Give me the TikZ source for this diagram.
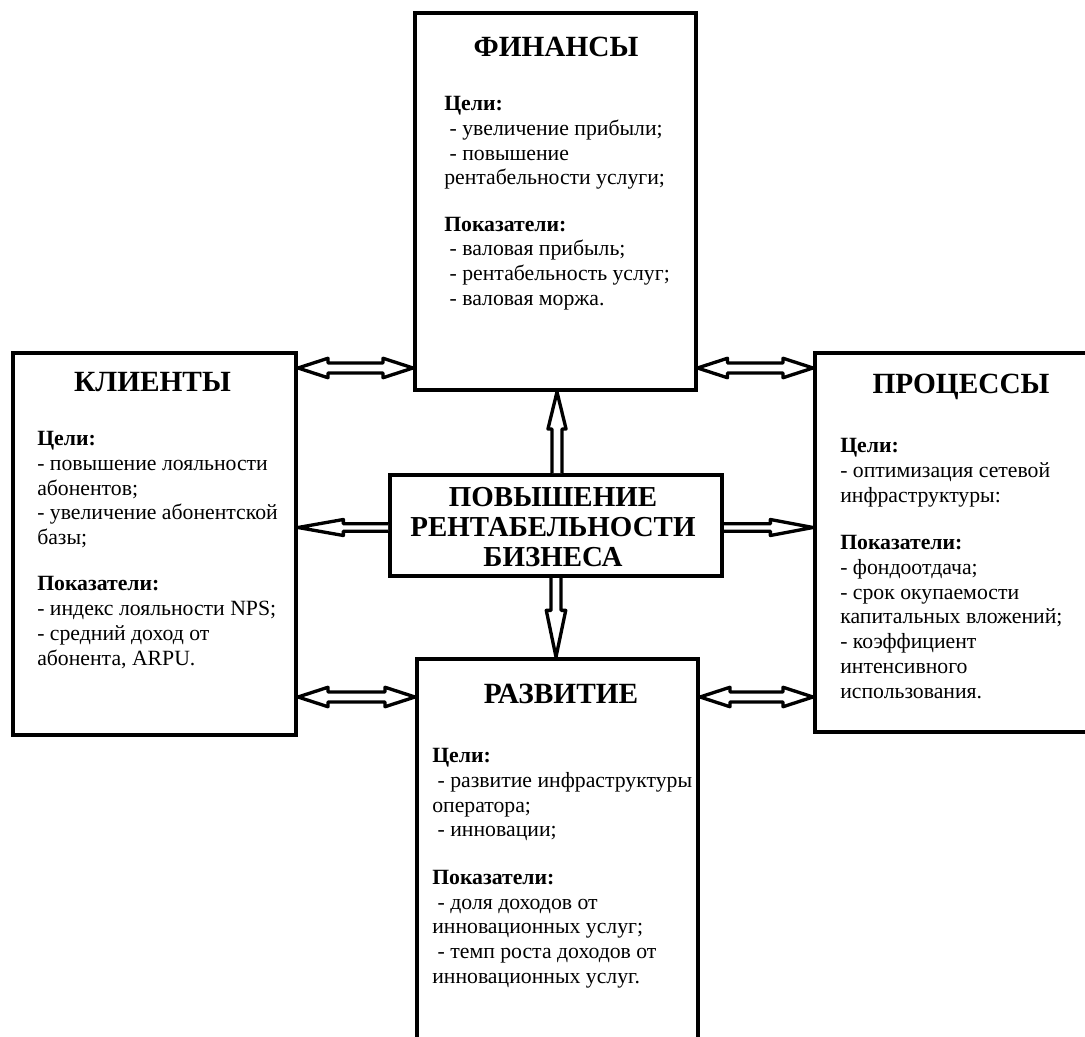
\documentclass[tikz,border=0pt]{standalone}
\usepackage{fontspec}
\setmainfont{Liberation Serif}
\usetikzlibrary{calc,fit}
\tikzset{
  arrhl/.store in=\ahl, arrhw/.store in=\ahw, arrsw/.store in=\asw,
  arrhl=22.5pt, arrhw=7pt, arrsw=3.75pt,
  arrbase/.style={draw, line width=2.5pt, fill=white, line join=round},
  dblarrow/.style={arrbase, to path={let \p1=(\tikztostart), \p2=(\tikztotarget),
      \p3=($(\p1)!\ahl!(\p2)$), \p4=($(\p2)!\ahl!(\p1)$) in
      (\p1) -- ($(\p3)!\ahw!90:(\p2)$) -- ($(\p3)!\asw!90:(\p2)$) -- ($(\p4)!\asw!90:(\p2)$)
      -- ($(\p4)!\ahw!90:(\p2)$) -- (\p2) -- ($(\p4)!\ahw!-90:(\p2)$) -- ($(\p4)!\asw!-90:(\p2)$)
      -- ($(\p3)!\asw!-90:(\p2)$) -- ($(\p3)!\ahw!-90:(\p2)$) -- cycle}},
  sglarrow/.style={arrbase, to path={let \p1=(\tikztostart), \p2=(\tikztotarget),
      \p4=($(\p2)!\ahl!(\p1)$) in
      ($(\p1)!\asw!-90:(\p2)$) -- ($(\p4)!\asw!-90:(\p2)$) -- ($(\p4)!\ahw!-90:(\p2)$) -- (\p2)
      -- ($(\p4)!\ahw!90:(\p2)$) -- ($(\p4)!\asw!90:(\p2)$) -- ($(\p1)!\asw!90:(\p2)$)}},
  box/.style={draw, line width=3pt, inner sep=0pt},
  body/.style={anchor=north west, inner sep=0pt, align=left, font=\fontsize{16.3pt}{18.6pt}\selectfont},
  title/.style={anchor=base, inner sep=0pt, font=\fontsize{22pt}{24pt}\selectfont\bfseries},
}
\begin{document}
\begin{tikzpicture}[x=0.75pt,y=-0.75pt]
\useasboundingbox (0,0) rectangle (1085,1037);
% boxes
\node[box, fit={(12.5,353) (296,735)}] (kl) {};
\node[box, fit={(415,13.5) (695.5,390)}] (fin) {};
\node[box, fit={(815,353) (1100,732)}] (pr) {};
\node[box, fit={(417,659) (698,1060)}] (rz) {};
\node[box, fit={(390,475) (722,576)}] (ctr) {};
% level coordinates
\coordinate (h1) at (0,368);
\coordinate (h2) at (0,697);
\coordinate (h3) at (0,527.5);
\coordinate (v1) at (557,0);
\coordinate (v2) at (556,0);
% arrows
\draw[dblarrow, arrhl=22.5pt, arrhw=7.3pt, arrsw=3.75pt] (kl.east |- h1) to (fin.west |- h1);
\draw[dblarrow, arrhl=22.5pt, arrhw=7.3pt, arrsw=3.75pt] (fin.east |- h1) to (pr.west |- h1);
\draw[dblarrow, arrhl=22.5pt, arrhw=7.3pt, arrsw=3.75pt] (kl.east |- h2) to (rz.west |- h2);
\draw[dblarrow, arrhl=22.5pt, arrhw=7.3pt, arrsw=3.75pt] (rz.east |- h2) to (pr.west |- h2);
\draw[sglarrow, arrhl=34pt, arrhw=6pt, arrsw=2.8pt] (ctr.west |- h3) to (kl.east |- h3);
\draw[sglarrow, arrhl=32pt, arrhw=6pt, arrsw=2.8pt] (ctr.east |- h3) to (pr.west |- h3);
\draw[sglarrow, arrhl=27.75pt, arrhw=6.8pt, arrsw=3.75pt] (v1 |- ctr.north) to (v1 |- fin.south);
\draw[sglarrow, arrhl=35pt, arrhw=7.3pt, arrsw=3.75pt] (v2 |- ctr.south) to (v2 |- rz.north);
% titles
\node[title] (tfin) at (556,57) {ФИНАНСЫ};
\node[title] (tkl) at (152.5,392) {КЛИЕНТЫ};
\node[title] (tpr) at (961,394) {ПРОЦЕССЫ};
\node[title] (trz) at (561,703) {РАЗВИТИЕ};
\node[align=center, inner sep=0pt, font=\fontsize{21.7pt}{22.5pt}\selectfont\bfseries] (tctr) at (553,527)
  {ПОВЫШЕНИЕ\\РЕНТАБЕЛЬНОСТИ\\БИЗНЕСА};
% bodies
\node[body] (bfin) at (444,96) {\textbf{Цели:}\\
\ - увеличение прибыли;\\
\ - повышение\\
рентабельности услуги;\\[16pt]
\textbf{Показатели:}\\
\ - валовая прибыль;\\
\ - рентабельность услуг;\\
\ - валовая моржа.};
\node[body] (bkl) at (37,431) {\textbf{Цели:}\\
- повышение лояльности\\
абонентов;\\
- увеличение абонентской\\
базы;\\[16pt]
\textbf{Показатели:}\\
- индекс лояльности NPS;\\
- средний доход от\\
абонента, ARPU.};
\node[body] (bpr) at (840,438) {\textbf{Цели:}\\
- оптимизация сетевой\\
инфраструктуры:\\[17pt]
\textbf{Показатели:}\\
- фондоотдача;\\
- срок окупаемости\\
капитальных вложений;\\
- коэффициент\\
интенсивного\\
использования.};
\node[body] (brz) at (432,748) {\textbf{Цели:}\\
\ - развитие инфраструктуры\\
оператора;\\
\ - инновации;\\[17pt]
\textbf{Показатели:}\\
\ - доля доходов от\\
инновационных услуг;\\
\ - темп роста доходов от\\
инновационных услуг.};
\end{tikzpicture}
\end{document}
